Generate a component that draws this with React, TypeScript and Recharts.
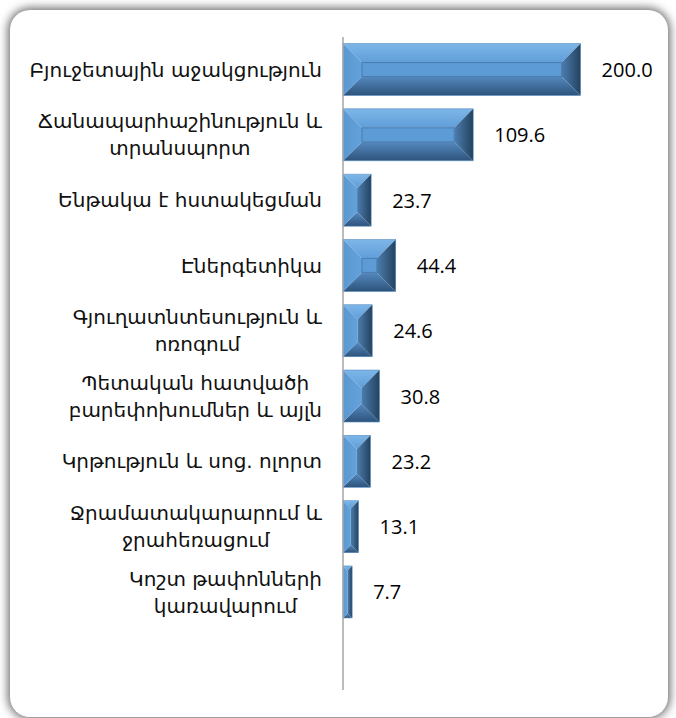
import React from "react"
import { BarChart, Bar, XAxis, YAxis, LabelList } from "recharts"

const CATEGORIES = [
  "Բյուջետային աջակցություն",
  "Ճանապարհաշինություն և\nտրանսպորտ",
  "Ենթակա է հստակեցման",
  "Էներգետիկա",
  "Գյուղատնտեսություն և\nոռոգում",
  "Պետական հատվածի\nբարեփոխումներ և այլն",
  "Կրթություն և սոց. ոլորտ",
  "Ջրամատակարարում և\nջրահեռացում",
  "Կոշտ թափոնների\nկառավարում",
  "",
]

const VALUES: (number | null)[] = [200.0, 109.6, 23.7, 44.4, 24.6, 30.8, 23.2, 13.1, 7.7, null]

const data = CATEGORIES.map((name, i) => ({ name, value: VALUES[i] }))

const LABEL_SIZE = 20
let ctx: CanvasRenderingContext2D | null = null
function textWidth(s: string) {
  if (!ctx) ctx = document.createElement("canvas").getContext("2d")
  if (!ctx) return s.length * 10
  ctx.font = `${LABEL_SIZE}px 'DejaVu Sans'`
  return ctx.measureText(s).width
}

function CategoryTick(props: any) {
  const { x, y, payload } = props
  const lines = String(payload.value || "").split("\n").filter(Boolean)
  if (!lines.length) return null
  const maxW = Math.max(...lines.map(textWidth))
  // recharts puts x at axis - tickSize - tickMargin (335); label block ends at 322
  const right = x - 13
  const cx = right - maxW / 2
  const lh = 27
  const top = y - ((lines.length - 1) * lh) / 2
  return (
    <text x={cx} y={top} textAnchor="middle" fontFamily="DejaVu Sans" fontSize={LABEL_SIZE} fill="#111">
      {lines.map((l, i) => (
        <tspan key={i} x={cx} y={top + i * lh} dominantBaseline="central">
          {l}
        </tspan>
      ))}
    </text>
  )
}

function BevelBar(props: any) {
  const { x, y, width: w, height: h, index } = props
  if (!w || w <= 0) return null
  const b = Math.min(19, w / 2, h / 2)
  const id = `bv${index}`
  const p = (pts: number[][]) => pts.map((q) => q.join(",")).join(" ")
  return (
    <g>
      <defs>
        <linearGradient id={`${id}t`} x1="0" y1="0" x2="0" y2="1">
          <stop offset="0" stopColor="#7db6e8" />
          <stop offset="1" stopColor="#609ed9" />
        </linearGradient>
        <linearGradient id={`${id}b`} x1="0" y1="0" x2="0" y2="1">
          <stop offset="0" stopColor="#5589c0" />
          <stop offset="1" stopColor="#2d537b" />
        </linearGradient>
        <linearGradient id={`${id}r`} x1="0" y1="0" x2="1" y2="0">
          <stop offset="0" stopColor="#4d7eaf" />
          <stop offset="1" stopColor="#23425f" />
        </linearGradient>
        <linearGradient id={`${id}l`} x1="0" y1="0" x2="1" y2="0">
          <stop offset="0" stopColor="#5a98d2" />
          <stop offset="1" stopColor="#63a1db" />
        </linearGradient>
      </defs>
      <polygon points={p([[x, y], [x + w, y], [x + w - b, y + b], [x + b, y + b]])} fill={`url(#${id}t)`} />
      <polygon points={p([[x, y + h], [x + w, y + h], [x + w - b, y + h - b], [x + b, y + h - b]])} fill={`url(#${id}b)`} />
      <polygon points={p([[x, y], [x + b, y + b], [x + b, y + h - b], [x, y + h]])} fill={`url(#${id}l)`} />
      <polygon points={p([[x + w, y], [x + w - b, y + b], [x + w - b, y + h - b], [x + w, y + h]])} fill={`url(#${id}r)`} />
      {w - 2 * b > 1 && h - 2 * b > 1 && (
        <rect x={x + b} y={y + b} width={w - 2 * b} height={h - 2 * b} fill="#5c9bd6" stroke="#4a7cad" strokeWidth={1} />
      )}
      <rect x={x} y={y} width={w} height={h} fill="none" stroke="#5a8fc2" strokeWidth={0.6} />
    </g>
  )
}

function ValueLabel(props: any) {
  const { x, y, width, height, value } = props
  if (value == null) return null
  return (
    <text x={x + width + 21} y={y + height / 2} dominantBaseline="central" fontFamily="'Open Sans'" fontSize={20} fill="#000">
      {Number(value).toFixed(1)}
    </text>
  )
}

export default function App() {
  return (
    <div style={{ position: "absolute", left: 0, top: 0, width: 676, height: 718, overflow: "hidden", background: "#ffffff" }}>
      <div
        style={{
          position: "absolute",
          left: 10,
          top: 10,
          width: 658,
          height: 707,
          background: "white",
          borderRadius: 20,
          boxShadow: "0 0 10px 2px rgba(0,0,0,0.6)",
        }}
      />
      <div style={{ position: "absolute", left: 0, top: 0 }}>
        <BarChart
          width={676}
          height={718}
          data={data}
          layout="vertical"
          margin={{ top: 37, right: 36, bottom: 28, left: 0 }}
          barCategoryGap="10%"
        >
          <XAxis type="number" domain={[0, 250]} hide />
          <YAxis
            type="category"
            dataKey="name"
            width={343}
            axisLine={{ stroke: "#a6a6a6", strokeWidth: 1.5 }}
            tickLine={false}
            interval={0}
            tick={<CategoryTick />}
          />
          <Bar dataKey="value" shape={<BevelBar />} isAnimationActive={false}>
            <LabelList dataKey="value" content={<ValueLabel />} />
          </Bar>
        </BarChart>
      </div>
    </div>
  )
}
